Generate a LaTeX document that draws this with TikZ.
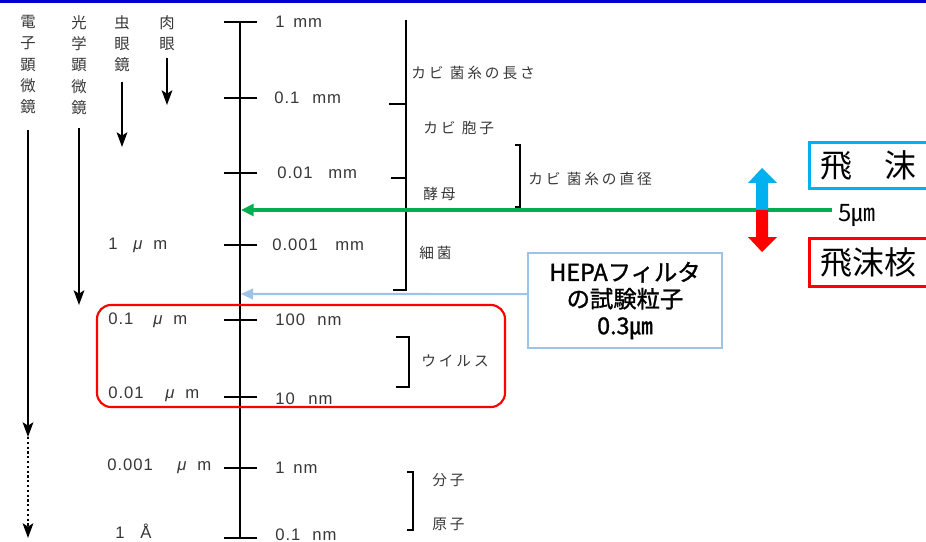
\documentclass[tikz,border=0pt]{standalone}
\usepackage{fontspec}
\setmainfont{Liberation Sans}
\newfontfamily\jp{Noto Sans CJK JP}
\newfontfamily\jpb[FakeBold=1.2]{Noto Sans CJK JP}
\newfontfamily\jpsp[LetterSpace=20]{Noto Sans CJK JP}
\newfontfamily\numsp[LetterSpace=6]{Liberation Sans}
\usetikzlibrary{arrows.meta}
\definecolor{topblue}{RGB}{0,0,204}
\definecolor{grn}{RGB}{0,176,80}
\definecolor{skyb}{RGB}{0,176,240}
\definecolor{hepab}{RGB}{157,195,230}
\definecolor{txtgray}{RGB}{55,55,55}
\newcommand{\numunit}[3]{\makebox[#1pt][l]{#2}#3}
\newcommand{\mumlab}[2]{\makebox[#1pt][l]{#2}\makebox[15pt][l]{\textit{μ}}m}
\tikzset{
  scaletick/.style={line width=1.5pt},
  numlab/.style={font=\numsp\fontsize{12.5}{14}\selectfont, text=txtgray, inner sep=0pt, anchor=west},
  jplab/.style={font=\jpsp\fontsize{11}{13}\selectfont, text=txtgray, inner sep=0pt, anchor=west},
  vlab/.style={font=\jp\fontsize{11.5}{16}\selectfont, align=center, text=txtgray, inner sep=0pt, anchor=north},
  scopearrow/.style={line width=1.6pt, -{Stealth[length=11pt,width=8pt,inset=2.5pt]}},
  brk/.style={line width=1.2pt},
}
\begin{document}
\begin{tikzpicture}[x=0.75pt,y=-0.75pt]
\useasboundingbox (0,0) rectangle (926,542);
\fill[topblue] (0,0) rectangle (926,3.5);

% scope columns
\node[vlab] (em) at (28,15) {電\\子\\顕\\微\\鏡};
\node[vlab] (om) at (79,15) {光\\学\\顕\\微\\鏡};
\node[vlab] (lp) at (122,15) {虫\\眼\\鏡};
\node[vlab] (eye) at (167,15) {肉\\眼};
\coordinate (emA) at (28,437);
\coordinate (emB) at (28,538);
\coordinate (omA) at (79,305);
\coordinate (lpA) at (122,147);
\coordinate (eyeA) at (167,105);
\draw[scopearrow] (28,130) -- (emA);
\draw[scopearrow, dotted] (emA) -- (emB);
\draw[scopearrow] (79,128) -- (omA);
\draw[scopearrow] (122,82) -- (lpA);
\draw[scopearrow] (167,58) -- (eyeA);

% main axis
\coordinate (t1) at (240,22);
\coordinate (t2) at (240,98);
\coordinate (t3) at (240,173);
\coordinate (t4) at (240,245);
\coordinate (t5) at (240,320);
\coordinate (t6) at (240,397);
\coordinate (t7) at (240,468);
\coordinate (t8) at (240,538);
\draw[line width=1.5pt] (t1) -- (t8);
\foreach \t in {t1,t2,t3,t4,t5,t6,t7,t8}
  \draw[scaletick] ([xshift=-12pt]\t) -- ([xshift=12.5pt]\t);

% right number labels
\node[numlab] (l1) at (275,22) {\numunit{13.5}{1}{mm}};
\node[numlab] (l2) at (274,98) {\numunit{28.5}{0.1}{mm}};
\node[numlab] (l3) at (277,173) {\numunit{38.25}{0.01}{mm}};
\node[numlab] (l4) at (272,245) {\numunit{47.25}{0.001}{mm}};
\node[numlab] (l5) at (275,320) {\numunit{31.5}{100}{nm}};
\node[numlab] (l6) at (275,399) {\numunit{24.75}{10}{nm}};
\node[numlab] (l7) at (275,468) {\numunit{13.5}{1}{nm}};
\node[numlab] (l8) at (275,534.5) {\numunit{27.75}{0.1}{nm}};

% left labels
\node[numlab] (m1) at (108,245) {\mumlab{18.75}{1}};
\node[numlab] (m2) at (108,320) {\mumlab{33.75}{0.1}};
\node[numlab] (m3) at (108,394) {\mumlab{42.75}{0.01}};
\node[numlab] (m4) at (107,466) {\mumlab{52.5}{0.001}};
\node[numlab] (m5) at (115,531) {\numunit{18.75}{1}{Å}};

% mould length bracket
\coordinate (k1) at (406,20);
\coordinate (k2) at (406,104);
\coordinate (k3) at (406,178);
\coordinate (k4) at (406,290);
\draw[brk] (k1) -- (k4) -- ([xshift=-10pt]k4);
\draw[brk] (k2) -- ([xshift=-12.5pt]k2);
\draw[brk] (k3) -- ([xshift=-11pt]k3);
\node[jplab] (j1) at (411,73) {カビ 菌糸の長さ};
\node[jplab] (j2) at (423,128) {カビ 胞子};
\node[jplab] (j3) at (423,194) {酵母};
\node[jplab] (j4) at (419,253) {細菌};

% hyphae diameter bracket
\draw[brk] (515,145) -- (520,145) -- (520,207) -- (515,207);
\node[jplab] (j5) at (528,179) {カビ 菌糸の直径};

% virus
\draw[red, line width=1.6pt, rounded corners=10.5pt] (97,305) rectangle (505,407);
\draw[brk] (396,337) -- (409,337) -- (409,387) -- (396,387);
\node[jplab] (j6) at (421,361) {ウイルス};

% molecules
\draw[brk] (407,472) -- (413,472) -- (413,530) -- (407,530);
\node[jplab] (j7) at (432,480) {分子};
\node[jplab] (j8) at (432,524) {原子};

% 5 um line
\node[font=\jp\fontsize{18}{20}\selectfont, anchor=west, inner sep=0pt] (five) at (838,215) {5㎛};
\coordinate (gEnd) at (832,210);
\coordinate (gTip) at (241,210);
\draw[grn, line width=2.3pt, -{Triangle[length=9.5pt,width=9pt]}] (gEnd) -- (gTip);

% double arrow
\fill[skyb] (756,210) -- (756,183) -- (748,183) -- (762,168) -- (777,183) -- (768,183) -- (768,210) -- cycle;
\fill[red] (756,210) -- (756,237) -- (748,237) -- (762,252) -- (777,237) -- (768,237) -- (768,210) -- cycle;

% droplet boxes
\node[draw=skyb, line width=2.25pt, anchor=west, minimum height=35pt, text width=82pt, inner xsep=8pt, align=left, inner ysep=0pt, font=\jp\fontsize{24}{26}\selectfont] (hi) at (808,165.5) {飛　沫};
\node[draw=red, line width=2.25pt, anchor=west, minimum height=35.5pt, text width=82pt, inner xsep=8pt, align=left, inner ysep=0pt, font=\jp\fontsize{24}{26}\selectfont] (hikaku) at (808,262.5) {飛沫核};

% HEPA
\node[draw=hepab, line width=1.5pt, minimum width=145.5pt, minimum height=71pt, align=center, inner sep=0pt, font=\jpb\fontsize{17.5}{20}\selectfont] (hepa) at (625,300.5) {HEPAフィルタ\\の試験粒子\\0.3㎛};
\coordinate (hTip) at (241,294);
\draw[hepab, line width=1.6pt, -{Triangle[length=9pt,width=8pt]}] ([yshift=4.8pt]hepa.west) -- (hTip);
\end{tikzpicture}
\end{document}
